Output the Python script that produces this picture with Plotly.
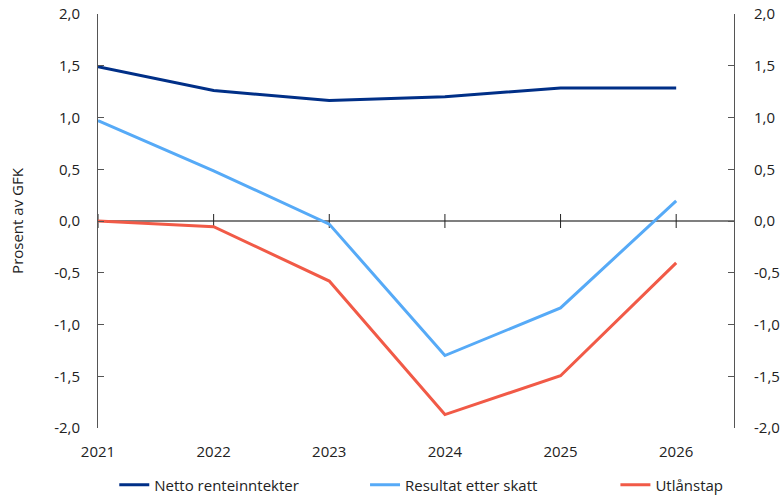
import plotly.graph_objects as go

# Years on the horizontal axis
years = [2021, 2022, 2023, 2024, 2025, 2026]
year_labels = ["2021", "2022", "2023", "2024", "2025", "2026"]

# Series, per cent of GFK
netto_renteinntekter = [1.49, 1.26, 1.165, 1.20, 1.285, 1.285]
resultat_etter_skatt = [0.97, 0.485, -0.03, -1.30, -0.84, 0.195]
utlanstap = [0.0, -0.055, -0.58, -1.87, -1.495, -0.405]

# Y ticks, labelled with decimal comma and a plain hyphen as minus sign
y_ticks = [-2.0, -1.5, -1.0, -0.5, 0.0, 0.5, 1.0, 1.5, 2.0]
y_tick_labels = [f"{v:.1f}".replace(".", ",") for v in y_ticks]

FONT = "Open Sans"
TEXT = "#222222"
FS = 15

fig = go.Figure()

series = [
    ("Netto renteinntekter", netto_renteinntekter, "#002f87", "legend", 0.1465),
    ("Resultat etter skatt", resultat_etter_skatt, "#56aaf7", "legend2", 0.4680),
    ("Utlånstap", utlanstap, "#f15a47", "legend3", 0.7890),
]

# Tick marks crossing the zero line at each year
fig.add_trace(go.Scatter(
    x=years, y=[0] * len(years), mode="markers",
    marker=dict(symbol="line-ns", size=10, line=dict(color="#222222", width=1)),
    showlegend=False, hoverinfo="skip", cliponaxis=False,
))

for name, values, color, leg, _ in series:
    fig.add_trace(go.Scatter(
        x=years, y=values, name=name, mode="lines",
        line=dict(color=color, width=3), legend=leg,
    ))

# Invisible trace so the right-hand axis is drawn
fig.add_trace(go.Scatter(
    x=years, y=utlanstap, yaxis="y2", mode="lines",
    line=dict(color="rgba(0,0,0,0)"), showlegend=False, hoverinfo="skip",
))

axis_common = dict(
    range=[-2.0, 2.0], tickvals=y_ticks, ticktext=y_tick_labels,
    showgrid=False, zeroline=False, showline=True, linecolor="#555555",
    linewidth=1, ticks="inside", ticklen=6, tickcolor="#555555",
    tickfont=dict(family=FONT, size=FS, color=TEXT), automargin=False,
)

legend_style = dict(
    orientation="h", xref="container", yref="container",
    y=0.02, yanchor="middle", xanchor="left",
    font=dict(family=FONT, size=FS, color=TEXT),
    bgcolor="rgba(0,0,0,0)", itemwidth=30,
)

fig.update_layout(
    width=780, height=495,
    margin=dict(l=98, r=46, t=14, b=67),
    paper_bgcolor="white", plot_bgcolor="white",
    font=dict(family=FONT, size=FS, color=TEXT),
    xaxis=dict(
        range=[2021, 2026.5], tickvals=years, ticktext=year_labels,
        showgrid=False, zeroline=False, showline=False, ticks="",
        ticklabelstandoff=13, automargin=False,
        tickfont=dict(family=FONT, size=FS, color=TEXT),
    ),
    yaxis=dict(
        **axis_common, side="left", ticklabelstandoff=14,
        title=dict(text="Prosent av GFK", standoff=26,
                   font=dict(family=FONT, size=FS, color=TEXT)),
    ),
    yaxis2=dict(**axis_common, side="right", overlaying="y",
                ticklabelstandoff=16),
    # Zero line, kept beneath the series
    shapes=[dict(type="line", xref="paper", x0=0, x1=1, yref="y", y0=0, y1=0,
                 line=dict(color="#000000", width=1.2), layer="below")],
    legend=dict(**legend_style, x=series[0][4]),
    legend2=dict(**legend_style, x=series[1][4]),
    legend3=dict(**legend_style, x=series[2][4]),
)

fig.write_html("out.html")
